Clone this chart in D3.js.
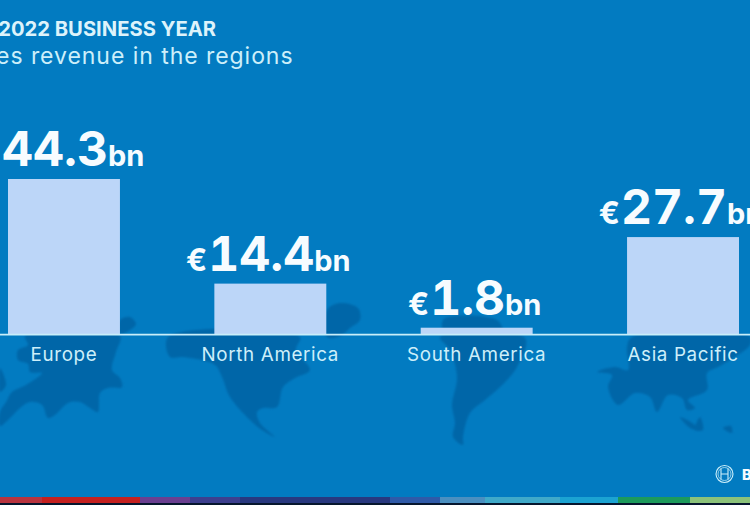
<!DOCTYPE html>
<html><head><meta charset="utf-8">
<script src="https://cdn.jsdelivr.net/npm/d3@7"></script>
<style>html,body{margin:0;padding:0;background:#027bc0;overflow:hidden}svg{display:block}</style>
</head><body><svg id="c" width="750" height="505"></svg>
<script>
const categories = ["Europe", "North America", "South America", "Asia Pacific"];
const revenue = [44.3, 14.4, 1.8, 27.7];
const titleText = "THE 2022 BUSINESS YEAR";
const subtitleText = "Sales revenue in the regions";
const stripColors = [["#b8343f",0,42],["#c4201f",42,140],["#6a3f90",140,190],["#3d3f8e",190,240],["#28387f",240,390],["#2f5aa8",390,440],["#4a8fc0",440,485],["#3fa9c9",485,560],["#1ba3d2",560,618],["#1c9a5b",618,690],["#8cc27a",690,750]];
const continents = [
 [[25,336],[120,336],[116,352],[112,370],[120,378],[122,387],[108,388],[100,393],[98,412],[90,408],[80,402],[68,403],[55,415],[48,418],[42,405],[30,402],[20,408],[10,418],[0,426],[0,412],[6,402],[12,392],[26,385],[42,373],[30,372],[28,364],[18,360],[18,350],[28,345]],
 [[0,368],[6,385],[0,392]],
 [[120,320],[130,317],[136,324],[130,330],[120,334]],
 [[168,337],[300,337],[296,350],[310,370],[295,378],[283,387],[277,407],[263,408],[257,412],[260,423],[275,437],[262,430],[250,420],[230,397],[222,377],[215,365],[183,357],[170,357]],
 [[327,310],[340,303],[358,308],[360,320],[350,328],[340,336],[327,337]],
 [[445,334],[443,320],[455,316],[497,320],[503,329],[505,334]],
 [[440,337],[525,338],[517,367],[500,387],[485,400],[470,413],[463,437],[463,445],[453,437],[455,423],[452,405],[457,377],[450,350]],
 [[632,337],[750,337],[750,345],[730,360],[718,367],[707,373],[707,390],[688,400],[695,408],[687,410],[682,398],[668,395],[657,412],[650,397],[635,393],[618,405],[608,387],[612,375],[597,372],[615,367],[628,370],[627,347]],
 [[680,417],[695,425],[697,430],[690,428]],
 [[700,417],[703,430],[695,430]],
 [[723,428],[731,426],[732,433]]
];

const svg = d3.select("#c");
const W = 750, H = 505, base = 334;
const defs = svg.append("defs");
svg.append("rect").attr("width",W).attr("height",H).attr("fill","#027bc1");

const blur = defs.append("filter").attr("id","soft");
blur.append("feGaussianBlur").attr("stdDeviation",0.8);
const line = d3.line().curve(d3.curveCatmullRomClosed.alpha(0.5));
svg.append("g").attr("filter","url(#soft)").selectAll("path").data(continents).join("path")
  .attr("d",d=>line(d)).attr("fill","#0266a8");

const x = d3.scaleBand().domain(categories).range([8,739]).paddingInner(0.4575).paddingOuter(0);
const y = d3.scaleLinear().domain([0,44.3]).range([base,179]);

svg.append("g").selectAll("rect").data(revenue).join("rect")
  .attr("x",(d,i)=>x(categories[i])).attr("width",x.bandwidth())
  .attr("y",d=>y(d)).attr("height",d=>base-y(d)).attr("fill","#bcd6f8");

svg.append("line").attr("x1",0).attr("x2",W).attr("y1",base+.7).attr("y2",base+.7)
  .attr("stroke","#c8eef9").attr("stroke-width",1.8);

const font = "Inter, 'Noto Sans', sans-serif";
const axis = d3.axisBottom(x).tickSize(0).tickPadding(14);
const ax = svg.append("g").attr("transform",`translate(0,${base})`).call(axis);
ax.select(".domain").remove();
ax.selectAll("text").attr("font-family",font).attr("font-size",18.8).attr("letter-spacing",0.65).attr("fill","#cdeffa");

const fmt = d3.format(".1f");
const labels = svg.append("g").selectAll("text").data(revenue).join("text")
  .attr("x",(d,i)=>x(categories[i])+x.bandwidth()/2-2).attr("y",d=>y(d)-13)
  .attr("text-anchor","middle").attr("font-family",font).attr("font-weight",700).attr("fill","#f7fcff")
  .style("font-variant-numeric","tabular-nums");
labels.append("tspan").attr("font-size",31).text("€");
labels.append("tspan").attr("font-size",48).attr("dx",1).text(d=>fmt(d));
labels.append("tspan").attr("font-size",29).text("bn");

svg.append("text").attr("x",216).attr("y",35.5).attr("text-anchor","end").attr("font-family",font)
  .attr("font-weight",700).attr("font-size",20.2).attr("fill","#ddf3fb").text(titleText);
svg.append("text").attr("x",293.5).attr("y",64).attr("text-anchor","end").attr("font-family",font)
  .attr("font-size",23).attr("letter-spacing",0.95).attr("fill","#cdeffa").text(subtitleText);

svg.append("g").selectAll("rect").data(stripColors).join("rect")
  .attr("x",d=>d[1]).attr("width",d=>d[2]-d[1]).attr("y",497).attr("height",6).attr("fill",d=>d[0]);
svg.append("rect").attr("x",0).attr("width",W).attr("y",503).attr("height",2).attr("fill","#06162e");

const logo = svg.append("g").attr("fill","none").attr("stroke","#cdeffa");
logo.append("circle").attr("cx",724.5).attr("cy",474).attr("r",8.5).attr("stroke-width",1.1);
logo.append("circle").attr("cx",724.5).attr("cy",474).attr("r",6.5).attr("stroke-width",.7);
logo.append("path").attr("d","M721 468.5V479.5M728 468.5V479.5M721 474H728").attr("stroke-width",1.1);
svg.append("text").attr("x",742).attr("y",479.5).attr("font-family",font).attr("font-weight",800)
  .attr("font-size",14.5).attr("fill","#f7fcff").text("BOSCH");
</script></body></html>
